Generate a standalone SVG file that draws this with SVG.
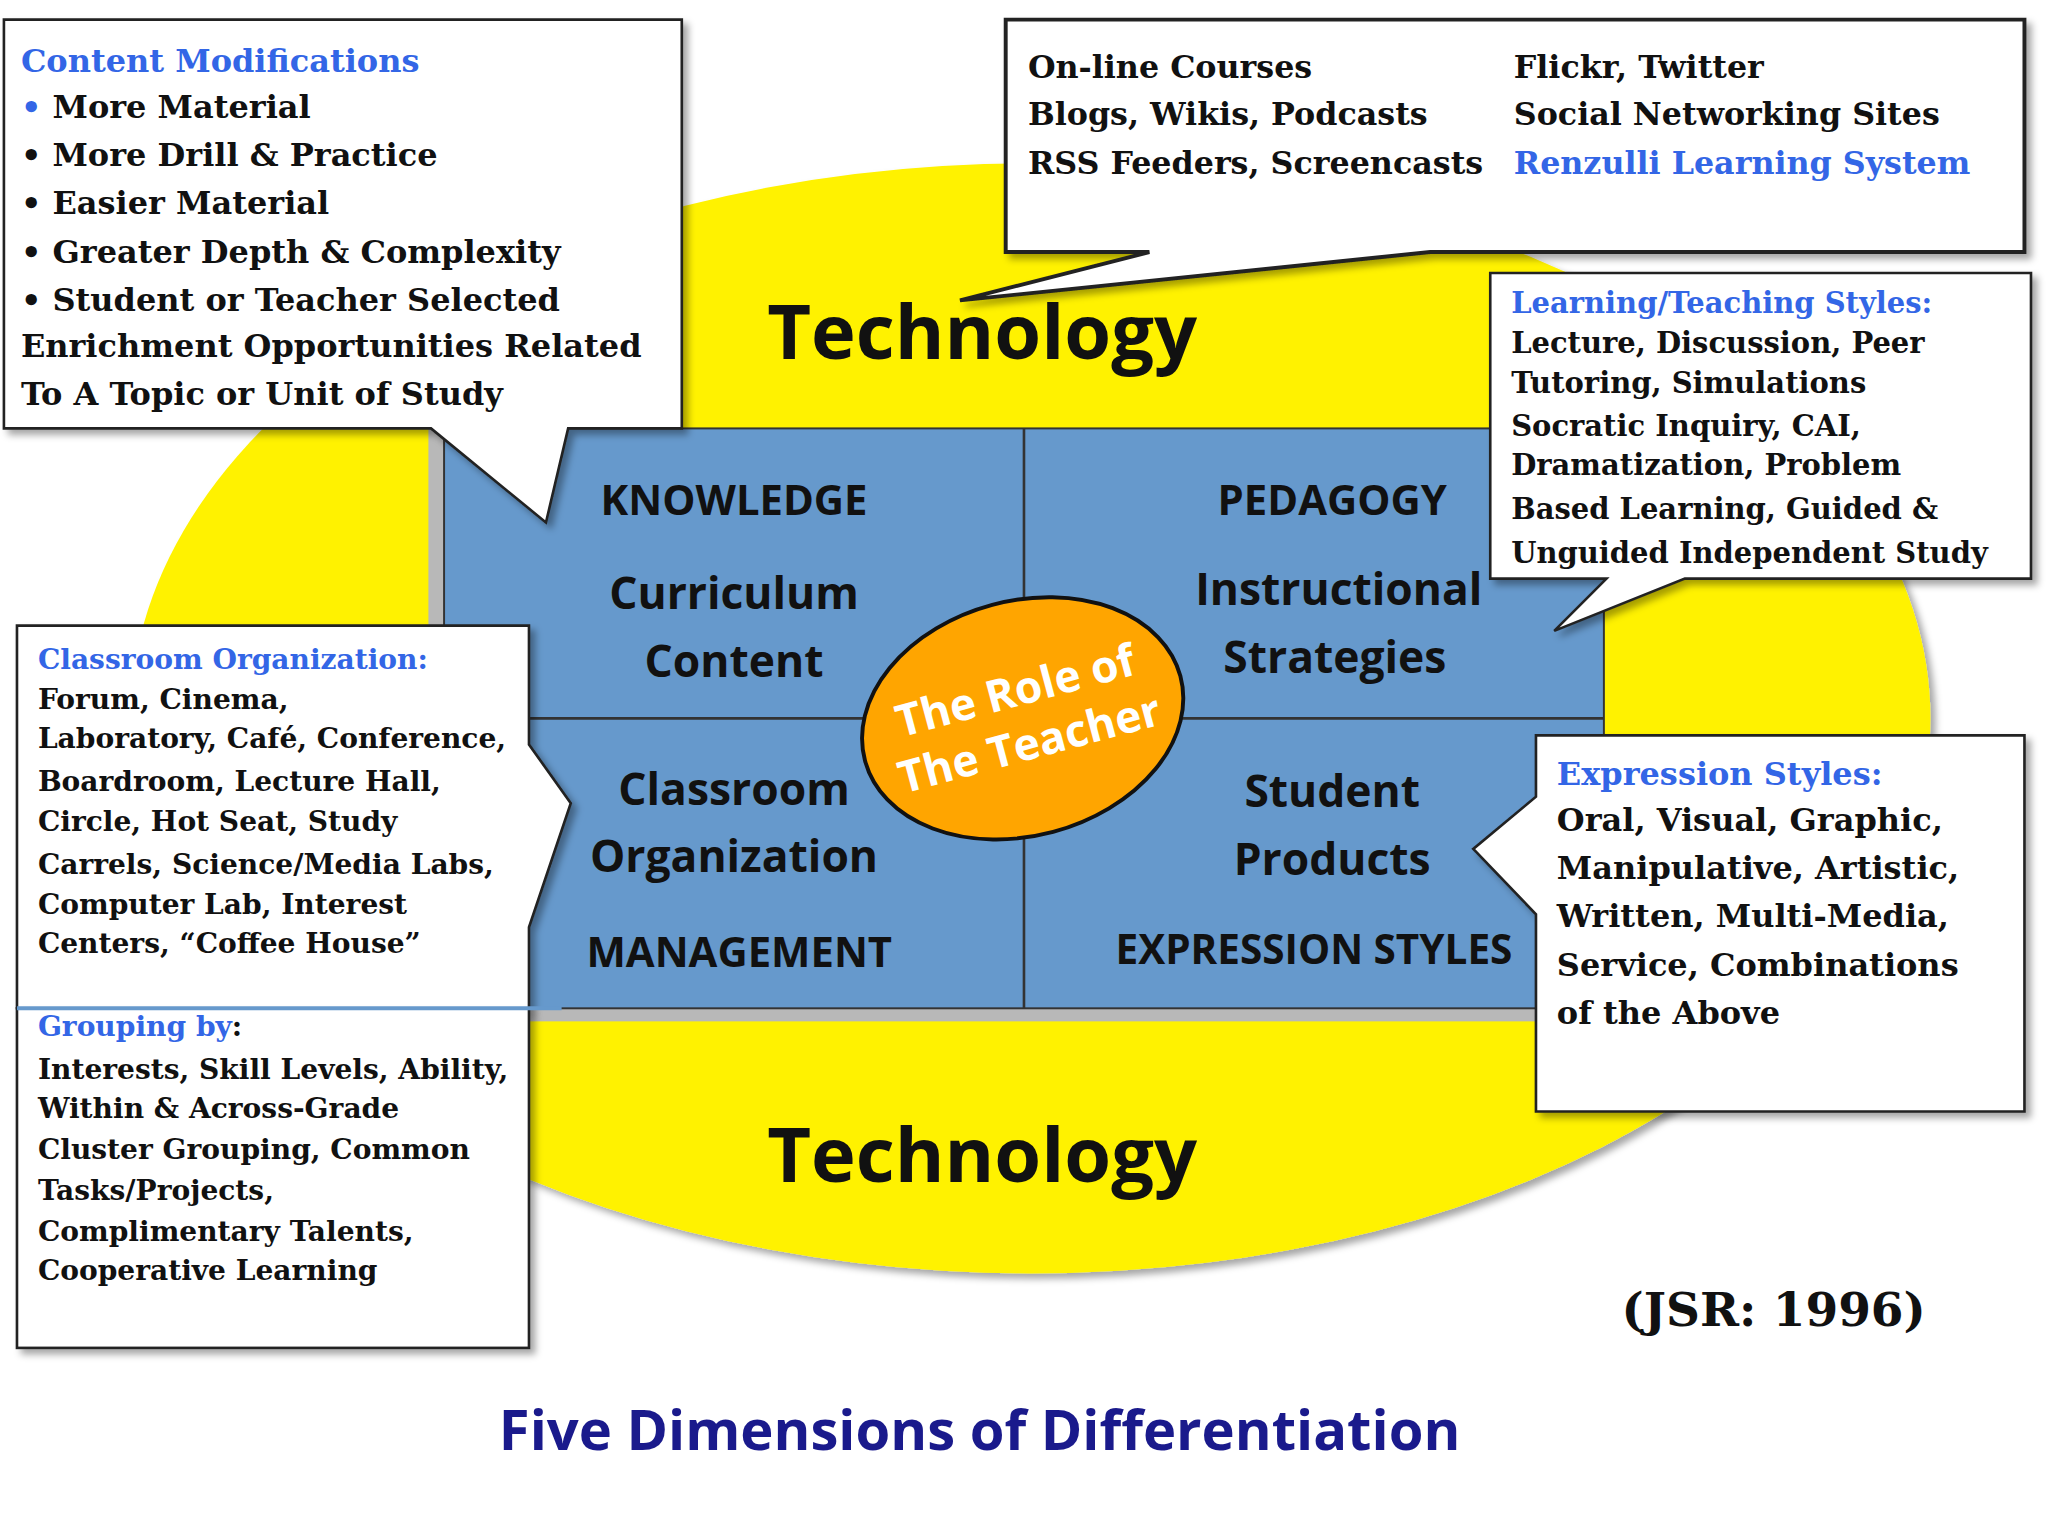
<svg xmlns="http://www.w3.org/2000/svg" width="2048" height="1536" viewBox="0 0 2048 1536">
<style>
.box{fill:#fff;stroke:#222;stroke-width:2}
.bt{font-family:"DejaVu Serif",serif;font-weight:bold;fill:#111}
.big{font-family:"Open Sans","Liberation Sans",sans-serif;font-weight:bold;fill:#111;text-anchor:middle}
</style>
<defs><filter id="sh"><feDropShadow dx="4" dy="4" stdDeviation="3" flood-opacity="0.35"/></filter></defs>
<rect width="2048" height="1536" fill="#fff"/>
<g transform="scale(1.3061)">
<g id="background">
<ellipse cx="789" cy="550" rx="689" ry="425" fill="#fff200" filter="url(#sh)"/>
<rect x="328" y="328" width="900" height="454" fill="#b8b8b8"/>
<rect x="340" y="328" width="888" height="444" fill="#6699cc" stroke="#333" stroke-width="1.5"/>
<line x1="784" y1="328" x2="784" y2="772" stroke="#333" stroke-width="2"/>
<line x1="340" y1="550" x2="1228" y2="550" stroke="#333" stroke-width="2"/>
<text class="big" x="752" y="275" font-size="58">Technology</text>
<text class="big" x="752" y="905" font-size="58">Technology</text>
</g>
<g id="quadrants" class="big" font-size="34">
<text x="562" y="394" font-size="32">KNOWLEDGE</text>
<text x="562" y="466">Curriculum</text>
<text x="562" y="518">Content</text>
<text x="1020" y="394" font-size="32">PEDAGOGY</text>
<text x="1025" y="463">Instructional</text>
<text x="1022" y="515">Strategies</text>
<text x="562" y="616">Classroom</text>
<text x="562" y="668">Organization</text>
<text x="566" y="740" font-size="32">MANAGEMENT</text>
<text x="1020" y="618">Student</text>
<text x="1020" y="670">Products</text>
<text x="1006" y="738" font-size="31">EXPRESSION STYLES</text>
</g>
<g id="center">
<ellipse cx="783" cy="550" rx="125" ry="90" transform="rotate(-15 783 550)" fill="#ffa500" stroke="#111" stroke-width="3"/>
<g transform="rotate(-15 783 550)" class="big" font-size="34">
<text x="783" y="540" fill="#fff">The Role of</text>
<text x="783" y="582" fill="#fff">The Teacher</text>
</g>
</g>
<g id="content-mod">
<path class="box" filter="url(#sh)" d="M3 15H522V328H435L418 400L330 328H3Z"/>
<g class="bt" style="font-size:24.5px">
<text x="16" y="55" fill="#3366e6">Content Modifications</text>
<text x="16" y="90"><tspan fill="#3366e6">•</tspan> More Material</text>
<text x="16" y="127">• More Drill &amp; Practice</text>
<text x="16" y="164">• Easier Material</text>
<text x="16" y="201">• Greater Depth &amp; Complexity</text>
<text x="16" y="238">• Student or Teacher Selected</text>
<text x="16" y="273">Enrichment Opportunities Related</text>
<text x="16" y="310">To A Topic or Unit of Study</text>
</g>
</g>
<g id="online">
<path class="box" style="stroke-width:3" filter="url(#sh)" d="M770 15H1550V193H1095L735 230L880 193H770Z"/>
<g class="bt" style="font-size:24.3px">
<text x="787" y="60">On-line Courses</text>
<text x="787" y="96">Blogs, Wikis, Podcasts</text>
<text x="787" y="133">RSS Feeders, Screencasts</text>
<text x="1159" y="60">Flickr, Twitter</text>
<text x="1159" y="96">Social Networking Sites</text>
<text x="1159" y="133" fill="#3366e6">Renzulli Learning System</text>
</g>
</g>
<g id="learning">
<path class="box" filter="url(#sh)" d="M1141 209H1555V443H1290L1190 483L1230 443H1141Z"/>
<g class="bt" style="font-size:22.2px">
<text x="1157" y="240" fill="#3366e6">Learning/Teaching Styles:</text>
<text x="1157" y="270">Lecture, Discussion, Peer</text>
<text x="1157" y="301">Tutoring, Simulations</text>
<text x="1157" y="334">Socratic Inquiry, CAI,</text>
<text x="1157" y="364">Dramatization, Problem</text>
<text x="1157" y="397">Based Learning, Guided &amp;</text>
<text x="1157" y="431">Unguided Independent Study</text>
</g>
</g>
<g id="classroom-org">
<path class="box" filter="url(#sh)" d="M13 479H405V570L437 615L405 710V772H13Z"/>
<g class="bt" style="font-size:21.5px">
<text x="29" y="512" fill="#3366e6">Classroom Organization:</text>
<text x="29" y="543">Forum, Cinema,</text>
<text x="29" y="573">Laboratory, Café, Conference,</text>
<text x="29" y="606">Boardroom, Lecture Hall,</text>
<text x="29" y="636">Circle, Hot Seat,  Study</text>
<text x="29" y="669">Carrels, Science/Media Labs,</text>
<text x="29" y="700">Computer Lab, Interest</text>
<text x="29" y="730">Centers, “Coffee House”</text>
</g>
</g>
<g id="grouping">
<rect class="box" filter="url(#sh)" x="13" y="772" width="392" height="260"/>
<line x1="13" y1="772" x2="430" y2="772" stroke="#6699cc" stroke-width="3"/>
<g class="bt" style="font-size:21.5px">
<text x="29" y="793"><tspan fill="#3366e6">Grouping by</tspan>:</text>
<text x="29" y="826">Interests, Skill Levels, Ability,</text>
<text x="29" y="856">Within &amp; Across-Grade</text>
<text x="29" y="887">Cluster Grouping, Common</text>
<text x="29" y="919">Tasks/Projects,</text>
<text x="29" y="950">Complimentary Talents,</text>
<text x="29" y="980">Cooperative Learning</text>
</g>
</g>
<g id="expression">
<path class="box" filter="url(#sh)" d="M1176 563H1550V851H1176V700L1128 650L1176 610Z"/>
<g class="bt" style="font-size:24.5px">
<text x="1192" y="601" fill="#3366e6">Expression Styles:</text>
<text x="1192" y="636"> Oral, Visual, Graphic,</text>
<text x="1192" y="673">Manipulative, Artistic,</text>
<text x="1192" y="710">Written, Multi-Media,</text>
<text x="1192" y="747">Service, Combinations</text>
<text x="1192" y="784">of the Above</text>
</g>
</g>
<g id="credits">
<text x="1358" y="1015" text-anchor="middle" font-family="DejaVu Serif,serif" font-weight="bold" font-size="36" fill="#111">(JSR: 1996)</text>
<text x="750" y="1110" text-anchor="middle" font-family="Open Sans,Liberation Sans,sans-serif" font-weight="bold" font-size="43" fill="#1a1a8c">Five Dimensions of Differentiation</text>
</g>
</g>
</svg>
